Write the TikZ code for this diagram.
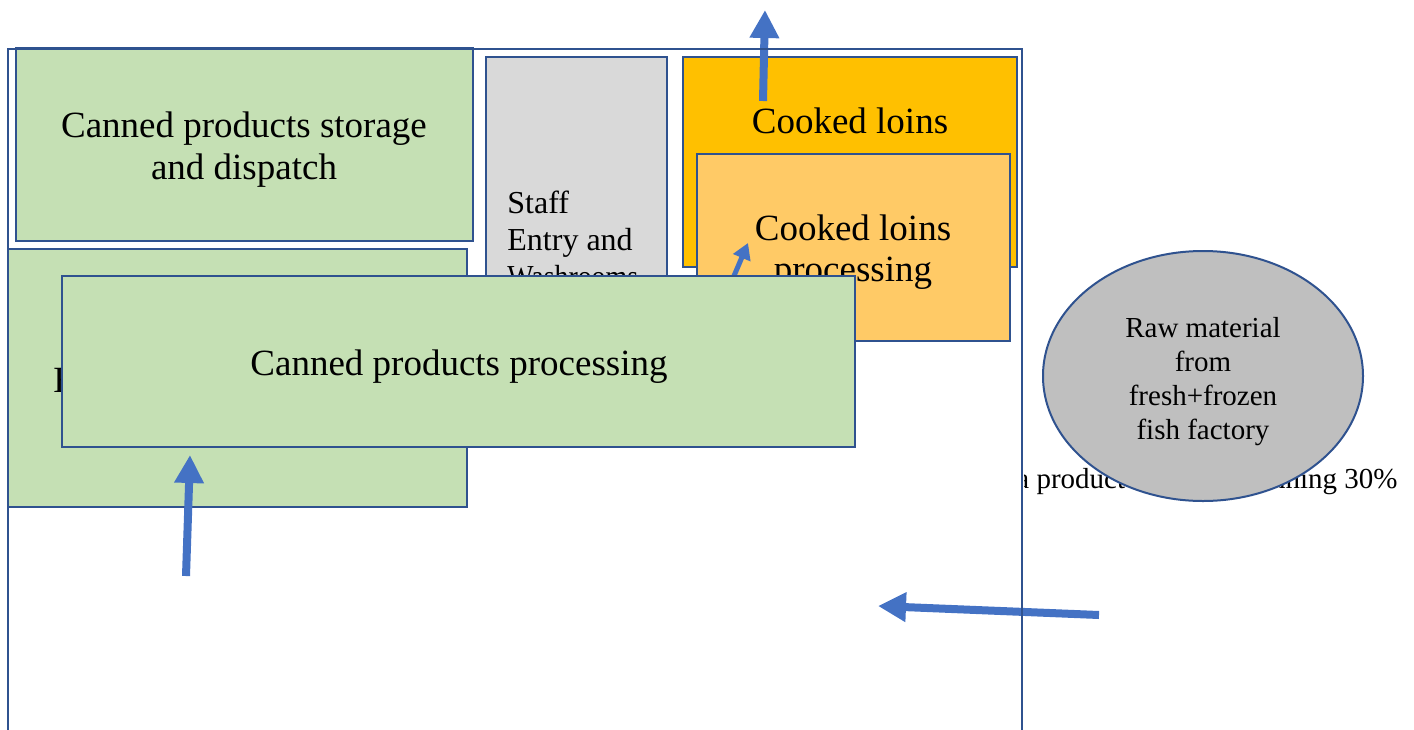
\documentclass[tikz,border=0pt]{standalone}
\usepackage{fontspec}
\setmainfont{Liberation Serif}
\usetikzlibrary{arrows.meta}
\definecolor{edge}{HTML}{2F528F}
\definecolor{flow}{HTML}{4472C4}
\definecolor{greenfill}{HTML}{C5E0B4}
\definecolor{greyfill}{HTML}{D9D9D9}
\definecolor{amber}{HTML}{FFC000}
\definecolor{lightamber}{HTML}{FFCA66}
\definecolor{ovalfill}{HTML}{BFBFBF}
\tikzset{
  room/.style={draw=edge, line width=1pt},
  wall/.style={draw=edge, line width=1.4pt},
  bigtext/.style={inner sep=0pt, font=\fontsize{18.5}{21}\selectfont},
  midtext/.style={inner sep=0pt, font=\fontsize{16}{18.5}\selectfont},
  smalltext/.style={inner sep=0pt, font=\fontsize{14.5}{17}\selectfont},
  flowarrow/.style={draw=flow, line width=4pt, -{Triangle[width=14pt,length=14pt]}},
  thinarrow/.style={draw=flow, line width=2.5pt, -{Triangle[width=9pt,length=8pt]}},
}
\begin{document}
\begin{tikzpicture}[x=0.5pt,y=-0.5pt]
\useasboundingbox (0,0) rectangle (1414,729);
\clip (0,0) rectangle (1414,729);

% canned products storage and dispatch
\path[room, fill=greenfill] (16,48) rectangle (473,241);
\node[bigtext, anchor=base] (store1) at (244,137) {Canned products storage};
\node[bigtext, anchor=base] (store2) at (244,179) {and dispatch};

% staff entry and washrooms
\path[room, fill=greyfill] (486,57) rectangle (667,300);
\node[midtext, anchor=base west] (staff1) at (507,213) {Staff};
\node[midtext, anchor=base west] (staff2) at (507,250) {Entry and};
\node[midtext, anchor=base west, xscale=0.87, transform shape] (staff3) at (507,287) {Washrooms};

% cooked loins area
\path[room, fill=amber] (683,57) rectangle (1017,267);
\node[bigtext, anchor=base] (loins) at (850,133) {Cooked loins};

% cooked loins processing
\path[room, fill=lightamber] (697,154) rectangle (1010,341);
\node[bigtext, anchor=base] (proc1) at (853,240) {Cooked loins};
\node[bigtext, anchor=base] (proc2) at (853,281) {processing};

% small transfer arrow into the loins processing room
\coordinate (tA) at (728,290);
\coordinate (tB) at (748,243);
\draw[thinarrow] (tA) -- (tB);

% lower green hall
\path[room, fill=greenfill] (8,249) rectangle (467,507);
\node[bigtext, anchor=base west] (hall) at (53,392) {H};

% canned products processing
\path[room, fill=greenfill] (62,276) rectangle (855,447);
\node[bigtext, anchor=base] (canproc) at (459,375) {Canned products processing};

% material flow arrows
\coordinate (upA) at (763,101);
\coordinate (upB) at (765,10);
\draw[flowarrow] (upA) -- (upB);

\coordinate (inA) at (186,576);
\coordinate (inB) at (190,455);
\draw[flowarrow] (inA) -- (inB);

\coordinate (rawA) at (1099,615);
\coordinate (rawB) at (878,606);
\draw[flowarrow] (rawA) -- (rawB);

% building outline
\path[wall] (8,49) rectangle (1022,780);

% note beside the building
\begin{scope}
  \clip (1024,440) rectangle (1414,520);
  \node[smalltext, anchor=base west] (note1) at (1016,488) {a product};
\end{scope}
\node[smalltext, anchor=base east] (note2) at (1398,488) {nning 30\%};

% raw material source
\path[room, fill=ovalfill] (1203,376) ellipse [x radius=160, y radius=125];
\node[smalltext, anchor=base] (raw1) at (1203,337) {Raw material};
\node[smalltext, anchor=base] (raw2) at (1203,371) {from};
\node[smalltext, anchor=base] (raw3) at (1203,405) {fresh+frozen};
\node[smalltext, anchor=base] (raw4) at (1203,439) {fish factory};
\end{tikzpicture}
\end{document}
